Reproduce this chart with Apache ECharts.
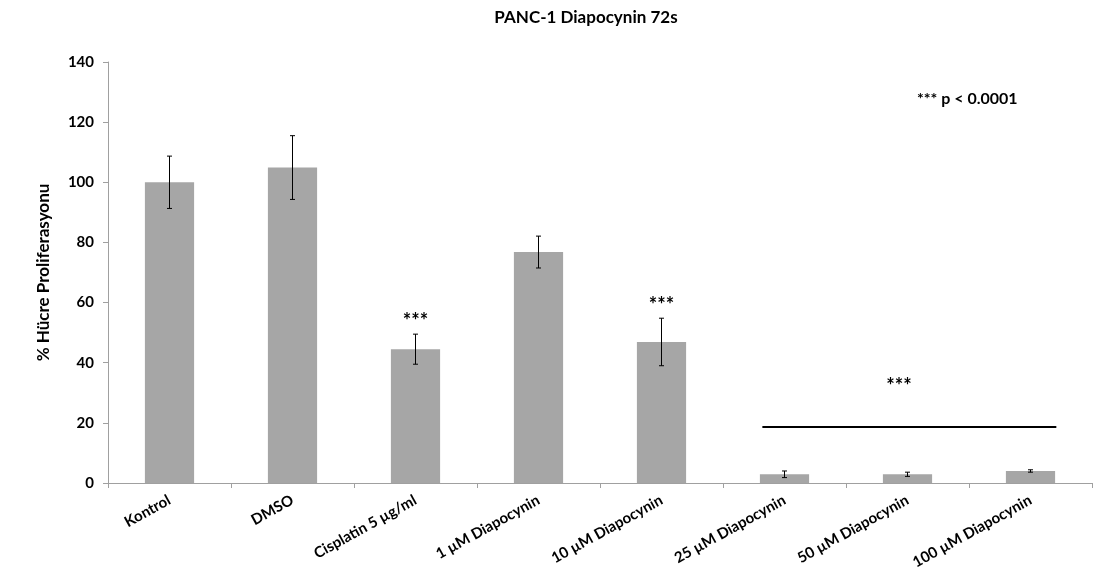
<!DOCTYPE html>
<html><head><meta charset="utf-8">
<script src="https://cdn.jsdelivr.net/npm/echarts@6/dist/echarts.min.js"></script>
<style>html,body{margin:0;padding:0;background:#fff}#c{width:1095px;height:588px}</style>
</head><body><div id="c"></div>
<script>
const categories = ['Kontrol','DMSO','Cisplatin 5 µg/ml','1 µM Diapocynin','10 µM Diapocynin','25 µM Diapocynin','50 µM Diapocynin','100 µM Diapocynin'];
const means = [100, 104.9, 44.5, 76.8, 46.9, 2.9, 2.9, 4.0];
const errors = [8.7, 10.6, 5.0, 5.3, 7.9, 1.1, 0.7, 0.4];
const starLabels = ['', '', '***', '', '***', '', '', ''];
const groupLine = {from: 4.82, to: 7.21, y: 18.6, label: '***', labelX: 5.93, labelY: 32.0};
const yTicks = {min: 0, max: 140, interval: 20};
const FONT = 'Lato';

const chart = echarts.init(document.getElementById('c'));
const errData = means.map((m,i)=>[i, m-errors[i], m+errors[i], starLabels[i]]);
chart.setOption({
  animation:false,
  title:{text:'PANC-1 Diapocynin 72s', left:581, textAlign:'center', top:4,
    textStyle:{fontFamily:FONT, fontWeight:'bold', fontSize:17, color:'#000'}},
  grid:{left:108, right:3, top:62, bottom:105},
  xAxis:[{type:'category', data:categories,
    axisLine:{lineStyle:{color:'#a0a0a0', width:1}},
    axisTick:{show:true, length:5, lineStyle:{color:'#a0a0a0'}},
    axisLabel:{rotate:29, interval:0, margin:16, fontFamily:FONT, fontWeight:'bold', fontSize:15, color:'#000'}},
    {type:'value', min:-0.5, max:7.5, show:false, position:'bottom'}],
  yAxis:{type:'value', min:yTicks.min, max:yTicks.max, interval:yTicks.interval,
    name:'% Hücre Proliferasyonu', nameLocation:'middle', nameGap:56, nameRotate:90,
    nameTextStyle:{fontFamily:FONT, fontWeight:'bold', fontSize:17, color:'#000'},
    splitLine:{show:false},
    axisLine:{show:true, onZero:false, lineStyle:{color:'#a0a0a0'}},
    axisTick:{show:true, length:5, lineStyle:{color:'#a0a0a0'}},
    axisLabel:{margin:14, fontFamily:FONT, fontWeight:'bold', fontSize:15, color:'#000'}},
  graphic:[{type:'text', left:917, top:91, style:{text:'*** p < 0.0001', fontFamily:FONT, fontWeight:'bold', fontSize:16, fill:'#000'}}],
  series:[
    {type:'bar', data:means, barWidth:'40%', itemStyle:{color:'#a6a6a6'}, silent:true},
    {type:'custom', data:errData, silent:true, z:5,
      renderItem:function(params, api){
        const x = api.value(0);
        const lo = api.coord([x, api.value(1)]);
        const hi = api.coord([x, api.value(2)]);
        const cap = 2.5;
        const children = [
          {type:'line', shape:{x1:lo[0], y1:lo[1], x2:hi[0], y2:hi[1]}, style:{stroke:'#000', lineWidth:1}},
          {type:'line', shape:{x1:lo[0]-cap, y1:lo[1], x2:lo[0]+cap, y2:lo[1]}, style:{stroke:'#000', lineWidth:1}},
          {type:'line', shape:{x1:hi[0]-cap, y1:hi[1], x2:hi[0]+cap, y2:hi[1]}, style:{stroke:'#000', lineWidth:1}}
        ];
        const lab = api.value(3);
        if (lab) children.push({type:'text', x:hi[0], y:hi[1]-13, style:{text:lab, align:'center', verticalAlign:'middle', fontFamily:FONT, fontWeight:'bold', fontSize:20, fill:'#000'}});
        return {type:'group', children:children};
      }},
    {type:'custom', xAxisIndex:1, data:[[groupLine.from, groupLine.to, groupLine.y, groupLine.labelX, groupLine.labelY]], silent:true, z:5,
      renderItem:function(params, api){
        const a = api.coord([api.value(0), api.value(2)]);
        const b = api.coord([api.value(1), api.value(2)]);
        const t = api.coord([api.value(3), api.value(4)]);
        return {type:'group', children:[
          {type:'line', shape:{x1:a[0], y1:a[1], x2:b[0], y2:b[1]}, style:{stroke:'#000', lineWidth:2}},
          {type:'text', x:t[0], y:t[1], style:{text:groupLine.label, align:'center', verticalAlign:'middle', fontFamily:FONT, fontWeight:'bold', fontSize:20, fill:'#000'}}
        ]};
      }}
  ]
});
</script></body></html>
